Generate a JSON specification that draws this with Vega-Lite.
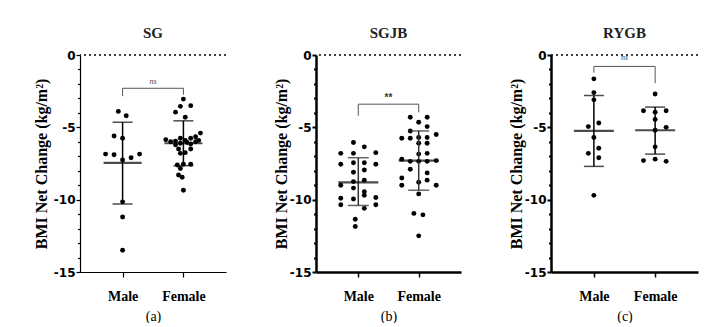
{
  "$schema": "https://vega.github.io/schema/vega-lite/v6.json",
  "background": "white",
  "padding": {"left": 33, "top": 26, "right": 0, "bottom": 0},
  "spacing": 46,
  "config": {
    "view": {"stroke": null},
    "axis": {"grid": false, "domainColor": "black", "tickColor": "black", "labelColor": "black", "titleColor": "black"},
    "title": {"font": "Liberation Serif", "fontSize": 15, "fontWeight": "bold", "color": "#222", "offset": 8}
  },
  "datasets": {
    "pts": [
      {"panel": "SG", "sex": "Male", "pos": 0.93, "bmi": -3.9},
      {"panel": "SG", "sex": "Male", "pos": 1.06, "bmi": -4.2},
      {"panel": "SG", "sex": "Male", "pos": 0.86, "bmi": -5.6},
      {"panel": "SG", "sex": "Male", "pos": 1.0, "bmi": -5.75},
      {"panel": "SG", "sex": "Male", "pos": 0.72, "bmi": -6.85},
      {"panel": "SG", "sex": "Male", "pos": 0.86, "bmi": -6.9},
      {"panel": "SG", "sex": "Male", "pos": 1.0, "bmi": -7.25},
      {"panel": "SG", "sex": "Male", "pos": 1.14, "bmi": -7.1},
      {"panel": "SG", "sex": "Male", "pos": 1.28, "bmi": -6.85},
      {"panel": "SG", "sex": "Male", "pos": 1.0, "bmi": -10.15},
      {"panel": "SG", "sex": "Male", "pos": 1.0, "bmi": -11.2},
      {"panel": "SG", "sex": "Male", "pos": 1.0, "bmi": -13.5},
      {"panel": "SG", "sex": "Female", "pos": 2.0, "bmi": -3.05},
      {"panel": "SG", "sex": "Female", "pos": 1.95, "bmi": -3.55},
      {"panel": "SG", "sex": "Female", "pos": 2.12, "bmi": -3.5},
      {"panel": "SG", "sex": "Female", "pos": 1.87, "bmi": -3.95},
      {"panel": "SG", "sex": "Female", "pos": 2.03, "bmi": -4.3},
      {"panel": "SG", "sex": "Female", "pos": 1.71, "bmi": -5.85},
      {"panel": "SG", "sex": "Female", "pos": 1.79, "bmi": -6.0},
      {"panel": "SG", "sex": "Female", "pos": 1.87, "bmi": -5.95},
      {"panel": "SG", "sex": "Female", "pos": 1.95, "bmi": -5.75},
      {"panel": "SG", "sex": "Female", "pos": 2.03, "bmi": -5.9},
      {"panel": "SG", "sex": "Female", "pos": 2.12, "bmi": -5.75},
      {"panel": "SG", "sex": "Female", "pos": 2.2, "bmi": -5.65},
      {"panel": "SG", "sex": "Female", "pos": 2.28, "bmi": -5.4},
      {"panel": "SG", "sex": "Female", "pos": 2.25, "bmi": -5.9},
      {"panel": "SG", "sex": "Female", "pos": 1.87, "bmi": -6.2},
      {"panel": "SG", "sex": "Female", "pos": 1.95, "bmi": -6.1},
      {"panel": "SG", "sex": "Female", "pos": 2.12, "bmi": -6.15},
      {"panel": "SG", "sex": "Female", "pos": 1.92, "bmi": -6.5},
      {"panel": "SG", "sex": "Female", "pos": 2.12, "bmi": -6.5},
      {"panel": "SG", "sex": "Female", "pos": 1.95, "bmi": -6.8},
      {"panel": "SG", "sex": "Female", "pos": 2.03, "bmi": -6.75},
      {"panel": "SG", "sex": "Female", "pos": 1.9, "bmi": -7.6},
      {"panel": "SG", "sex": "Female", "pos": 2.0, "bmi": -7.55},
      {"panel": "SG", "sex": "Female", "pos": 2.12, "bmi": -7.55},
      {"panel": "SG", "sex": "Female", "pos": 1.95, "bmi": -7.85},
      {"panel": "SG", "sex": "Female", "pos": 1.92, "bmi": -8.3},
      {"panel": "SG", "sex": "Female", "pos": 1.98, "bmi": -8.45},
      {"panel": "SG", "sex": "Female", "pos": 2.0, "bmi": -9.35},
      {"panel": "SG", "sex": "Female", "pos": 2.2, "bmi": -6.0},
      {"panel": "SG", "sex": "Female", "pos": 2.06, "bmi": -6.05},
      {"panel": "SGJB", "sex": "Male", "pos": 0.92, "bmi": -6.05},
      {"panel": "SGJB", "sex": "Male", "pos": 1.1, "bmi": -6.35},
      {"panel": "SGJB", "sex": "Male", "pos": 0.71, "bmi": -6.8},
      {"panel": "SGJB", "sex": "Male", "pos": 0.92, "bmi": -6.8},
      {"panel": "SGJB", "sex": "Male", "pos": 1.29, "bmi": -6.75},
      {"panel": "SGJB", "sex": "Male", "pos": 0.71, "bmi": -7.55},
      {"panel": "SGJB", "sex": "Male", "pos": 0.92, "bmi": -7.45},
      {"panel": "SGJB", "sex": "Male", "pos": 1.1, "bmi": -7.45},
      {"panel": "SGJB", "sex": "Male", "pos": 1.29, "bmi": -7.55},
      {"panel": "SGJB", "sex": "Male", "pos": 1.1, "bmi": -7.95},
      {"panel": "SGJB", "sex": "Male", "pos": 0.92, "bmi": -8.1},
      {"panel": "SGJB", "sex": "Male", "pos": 0.92, "bmi": -8.75},
      {"panel": "SGJB", "sex": "Male", "pos": 1.1, "bmi": -8.65},
      {"panel": "SGJB", "sex": "Male", "pos": 0.71, "bmi": -9.0},
      {"panel": "SGJB", "sex": "Male", "pos": 0.92, "bmi": -9.2},
      {"panel": "SGJB", "sex": "Male", "pos": 1.1, "bmi": -9.45},
      {"panel": "SGJB", "sex": "Male", "pos": 1.1, "bmi": -9.7},
      {"panel": "SGJB", "sex": "Male", "pos": 0.71, "bmi": -9.9},
      {"panel": "SGJB", "sex": "Male", "pos": 0.92, "bmi": -9.95},
      {"panel": "SGJB", "sex": "Male", "pos": 1.29, "bmi": -9.85},
      {"panel": "SGJB", "sex": "Male", "pos": 0.71, "bmi": -10.35},
      {"panel": "SGJB", "sex": "Male", "pos": 1.29, "bmi": -10.35},
      {"panel": "SGJB", "sex": "Male", "pos": 1.1, "bmi": -10.6},
      {"panel": "SGJB", "sex": "Male", "pos": 0.95, "bmi": -11.35},
      {"panel": "SGJB", "sex": "Male", "pos": 0.95, "bmi": -11.85},
      {"panel": "SGJB", "sex": "Female", "pos": 1.86, "bmi": -4.3},
      {"panel": "SGJB", "sex": "Female", "pos": 2.0, "bmi": -4.65},
      {"panel": "SGJB", "sex": "Female", "pos": 2.14, "bmi": -4.3},
      {"panel": "SGJB", "sex": "Female", "pos": 1.86, "bmi": -5.25},
      {"panel": "SGJB", "sex": "Female", "pos": 2.14, "bmi": -4.95},
      {"panel": "SGJB", "sex": "Female", "pos": 1.72, "bmi": -5.75},
      {"panel": "SGJB", "sex": "Female", "pos": 1.86, "bmi": -5.75},
      {"panel": "SGJB", "sex": "Female", "pos": 2.0, "bmi": -5.7},
      {"panel": "SGJB", "sex": "Female", "pos": 2.14, "bmi": -5.7},
      {"panel": "SGJB", "sex": "Female", "pos": 2.29, "bmi": -5.5},
      {"panel": "SGJB", "sex": "Female", "pos": 2.0, "bmi": -6.1},
      {"panel": "SGJB", "sex": "Female", "pos": 2.14, "bmi": -6.1},
      {"panel": "SGJB", "sex": "Female", "pos": 2.0, "bmi": -6.85},
      {"panel": "SGJB", "sex": "Female", "pos": 2.14, "bmi": -6.8},
      {"panel": "SGJB", "sex": "Female", "pos": 1.72, "bmi": -7.2},
      {"panel": "SGJB", "sex": "Female", "pos": 1.86, "bmi": -7.35},
      {"panel": "SGJB", "sex": "Female", "pos": 2.0, "bmi": -7.35},
      {"panel": "SGJB", "sex": "Female", "pos": 2.14, "bmi": -7.35},
      {"panel": "SGJB", "sex": "Female", "pos": 2.29, "bmi": -7.3},
      {"panel": "SGJB", "sex": "Female", "pos": 1.86, "bmi": -7.9},
      {"panel": "SGJB", "sex": "Female", "pos": 2.14, "bmi": -8.15},
      {"panel": "SGJB", "sex": "Female", "pos": 1.72, "bmi": -8.5},
      {"panel": "SGJB", "sex": "Female", "pos": 2.14, "bmi": -8.65},
      {"panel": "SGJB", "sex": "Female", "pos": 1.72, "bmi": -9.0},
      {"panel": "SGJB", "sex": "Female", "pos": 2.0, "bmi": -8.8},
      {"panel": "SGJB", "sex": "Female", "pos": 2.29, "bmi": -9.0},
      {"panel": "SGJB", "sex": "Female", "pos": 2.0, "bmi": -9.6},
      {"panel": "SGJB", "sex": "Female", "pos": 1.92, "bmi": -10.95},
      {"panel": "SGJB", "sex": "Female", "pos": 2.07, "bmi": -11.05},
      {"panel": "SGJB", "sex": "Female", "pos": 2.0, "bmi": -12.5},
      {"panel": "RYGB", "sex": "Male", "pos": 1.0, "bmi": -1.65},
      {"panel": "RYGB", "sex": "Male", "pos": 1.0, "bmi": -2.6},
      {"panel": "RYGB", "sex": "Male", "pos": 1.0, "bmi": -3.1},
      {"panel": "RYGB", "sex": "Male", "pos": 1.08, "bmi": -4.7},
      {"panel": "RYGB", "sex": "Male", "pos": 0.91, "bmi": -4.95},
      {"panel": "RYGB", "sex": "Male", "pos": 1.0, "bmi": -5.7},
      {"panel": "RYGB", "sex": "Male", "pos": 1.08, "bmi": -6.45},
      {"panel": "RYGB", "sex": "Male", "pos": 0.91, "bmi": -6.8},
      {"panel": "RYGB", "sex": "Male", "pos": 1.08, "bmi": -7.1},
      {"panel": "RYGB", "sex": "Male", "pos": 1.0, "bmi": -9.7},
      {"panel": "RYGB", "sex": "Female", "pos": 2.0, "bmi": -2.7},
      {"panel": "RYGB", "sex": "Female", "pos": 1.81, "bmi": -3.85},
      {"panel": "RYGB", "sex": "Female", "pos": 2.0, "bmi": -3.95},
      {"panel": "RYGB", "sex": "Female", "pos": 2.18, "bmi": -3.85},
      {"panel": "RYGB", "sex": "Female", "pos": 2.0, "bmi": -4.45},
      {"panel": "RYGB", "sex": "Female", "pos": 2.18, "bmi": -5.0},
      {"panel": "RYGB", "sex": "Female", "pos": 2.0, "bmi": -5.2},
      {"panel": "RYGB", "sex": "Female", "pos": 2.0, "bmi": -6.35},
      {"panel": "RYGB", "sex": "Female", "pos": 1.81, "bmi": -7.3},
      {"panel": "RYGB", "sex": "Female", "pos": 2.0, "bmi": -7.2},
      {"panel": "RYGB", "sex": "Female", "pos": 2.18, "bmi": -7.35}
    ],
    "summary": [
      {"panel": "SG", "sex": "Male", "pos": 1, "mean": -7.45, "lo": -10.3, "hi": -4.65},
      {"panel": "SG", "sex": "Female", "pos": 2, "mean": -6.1, "lo": -7.65, "hi": -4.55},
      {"panel": "SGJB", "sex": "Male", "pos": 1, "mean": -8.8, "lo": -10.4, "hi": -7.1},
      {"panel": "SGJB", "sex": "Female", "pos": 2, "mean": -7.3, "lo": -9.35, "hi": -5.25},
      {"panel": "RYGB", "sex": "Male", "pos": 1, "mean": -5.25, "lo": -7.7, "hi": -2.8},
      {"panel": "RYGB", "sex": "Female", "pos": 2, "mean": -5.2, "lo": -6.85, "hi": -3.6}
    ],
    "brackets": [
      {"panel": "SG", "from": 1, "to": 2, "mid": 1.5, "top": -2.3, "fromEnd": -2.85, "toEnd": -2.75, "label": "ns", "labelY": -1.85},
      {"panel": "SGJB", "from": 1, "to": 2, "mid": 1.5, "top": -3.4, "fromEnd": -4.2, "toEnd": -3.97, "label": "**", "labelY": -2.95},
      {"panel": "RYGB", "from": 1, "to": 2, "mid": 1.5, "top": -0.79, "fromEnd": -1.22, "toEnd": -1.95, "label": "ns", "labelY": -0.2}
    ],
    "zero": [{"level": 0}]
  },
  "hconcat": [
    {
      "width": 146, "height": 217,
      "title": "SG",
      "layer": [
        {"data": {"name": "zero"}, "mark": {"type": "rule", "strokeDash": [2, 3], "strokeWidth": 1.5, "color": "black"},
         "encoding": {"y": {"field": "level", "type": "quantitative", "scale": {"domain": [-15, 0], "nice": false},
           "axis": {"title": "BMI Net Change (kg/m²)", "values": [0,-1,-2,-3,-4,-5,-6,-7,-8,-9,-10,-11,-12,-13,-14,-15], "tickCount": 20, "labelExpr": "datum.value % 5 == 0 ? '' + datum.value : ''", "labelOverlap": false, "labelFont": "DejaVu Sans", "labelFontWeight": "bold", "labelFontSize": 12, "tickSize": {"condition": {"test": "datum.value % 5 == 0", "value": 4}, "value": 2.5}, "labelPadding": 1, "titleFont": "Liberation Serif", "titleFontSize": 16, "titleFontWeight": "bold", "titlePadding": 4, "domainWidth": 1.2, "tickWidth": 1.2}}}},
        {"data": {"name": "pts"}, "transform": [{"filter": "datum.panel == 'SG'"}],
         "mark": {"type": "point", "filled": true, "color": "black", "size": 24, "opacity": 1},
         "encoding": {
           "x": {"field": "pos", "type": "quantitative", "scale": {"domain": [0.3, 2.7], "nice": false},
             "axis": {"title": "(a)", "values": [1, 2], "labelExpr": "datum.value == 1 ? 'Male' : 'Female'", "labelFont": "Liberation Serif", "labelFontWeight": "bold", "labelFontSize": 14, "labelPadding": 12, "tickSize": 5, "domainWidth": 1.2, "tickWidth": 1.2, "titleFont": "Liberation Serif", "titleFontWeight": "normal", "titleFontSize": 14, "titlePadding": 6}},
           "y": {"field": "bmi", "type": "quantitative"}}},
        {"data": {"name": "summary"}, "transform": [{"filter": "datum.panel == 'SG'"}],
         "mark": {"type": "rule", "color": "black", "strokeWidth": 1.5},
         "encoding": {"x": {"field": "pos", "type": "quantitative"}, "y": {"field": "lo", "type": "quantitative"}, "y2": {"field": "hi"}}},
        {"data": {"name": "summary"}, "transform": [{"filter": "datum.panel == 'SG'"}],
         "mark": {"type": "tick", "orient": "horizontal", "color": "black", "size": 20, "thickness": 1.5},
         "encoding": {"x": {"field": "pos", "type": "quantitative"}, "y": {"field": "lo", "type": "quantitative"}}},
        {"data": {"name": "summary"}, "transform": [{"filter": "datum.panel == 'SG'"}],
         "mark": {"type": "tick", "orient": "horizontal", "color": "black", "size": 20, "thickness": 1.5},
         "encoding": {"x": {"field": "pos", "type": "quantitative"}, "y": {"field": "hi", "type": "quantitative"}}},
        {"data": {"name": "summary"}, "transform": [{"filter": "datum.panel == 'SG'"}],
         "mark": {"type": "tick", "orient": "horizontal", "color": "black", "size": 38, "thickness": 2.2},
         "encoding": {"x": {"field": "pos", "type": "quantitative"}, "y": {"field": "mean", "type": "quantitative"}}},
        {"data": {"name": "brackets"}, "transform": [{"filter": "datum.panel == 'SG'"}],
         "mark": {"type": "rule", "color": "#555", "strokeWidth": 1},
         "encoding": {"x": {"field": "from", "type": "quantitative"}, "x2": {"field": "to"}, "y": {"field": "top", "type": "quantitative"}}},
        {"data": {"name": "brackets"}, "transform": [{"filter": "datum.panel == 'SG'"}],
         "mark": {"type": "rule", "color": "#555", "strokeWidth": 1},
         "encoding": {"x": {"field": "from", "type": "quantitative"}, "y": {"field": "top", "type": "quantitative"}, "y2": {"field": "fromEnd"}}},
        {"data": {"name": "brackets"}, "transform": [{"filter": "datum.panel == 'SG'"}],
         "mark": {"type": "rule", "color": "#555", "strokeWidth": 1},
         "encoding": {"x": {"field": "to", "type": "quantitative"}, "y": {"field": "top", "type": "quantitative"}, "y2": {"field": "toEnd"}}},
        {"data": {"name": "brackets"}, "transform": [{"filter": "datum.panel == 'SG'"}],
         "mark": {"type": "text", "color": "#444", "font": "Liberation Serif", "fontStyle": "italic", "fontSize": 8},
         "encoding": {"x": {"field": "mid", "type": "quantitative"}, "y": {"field": "labelY", "type": "quantitative"}, "text": {"field": "label"}}}
      ]
    },
    {
      "width": 145, "height": 217,
      "title": "SGJB",
      "layer": [
        {"data": {"name": "zero"}, "mark": {"type": "rule", "strokeDash": [2, 3], "strokeWidth": 1.5, "color": "black"},
         "encoding": {"y": {"field": "level", "type": "quantitative", "scale": {"domain": [-15, 0], "nice": false},
           "axis": {"title": "BMI Net Change (kg/m²)", "values": [0,-1,-2,-3,-4,-5,-6,-7,-8,-9,-10,-11,-12,-13,-14,-15], "tickCount": 20, "labelExpr": "datum.value % 5 == 0 ? '' + datum.value : ''", "labelOverlap": false, "labelFont": "DejaVu Sans", "labelFontWeight": "bold", "labelFontSize": 12, "tickSize": {"condition": {"test": "datum.value % 5 == 0", "value": 4}, "value": 2.5}, "labelPadding": 1, "titleFont": "Liberation Serif", "titleFontSize": 16, "titleFontWeight": "bold", "titlePadding": 0, "domainWidth": 2.5, "tickWidth": 2}}}},
        {"data": {"name": "pts"}, "transform": [{"filter": "datum.panel == 'SGJB'"}],
         "mark": {"type": "point", "filled": true, "color": "black", "size": 24, "opacity": 1},
         "encoding": {
           "x": {"field": "pos", "type": "quantitative", "scale": {"domain": [0.3, 2.7], "nice": false},
             "axis": {"title": "(b)", "values": [1, 2], "labelExpr": "datum.value == 1 ? 'Male' : 'Female'", "labelFont": "Liberation Serif", "labelFontWeight": "bold", "labelFontSize": 14, "labelPadding": 12, "tickSize": 5, "domainWidth": 2.5, "tickWidth": 1.5, "titleFont": "Liberation Serif", "titleFontWeight": "normal", "titleFontSize": 14, "titlePadding": 6}},
           "y": {"field": "bmi", "type": "quantitative"}}},
        {"data": {"name": "summary"}, "transform": [{"filter": "datum.panel == 'SGJB'"}],
         "mark": {"type": "rule", "color": "#333", "strokeWidth": 1.5},
         "encoding": {"x": {"field": "pos", "type": "quantitative"}, "y": {"field": "lo", "type": "quantitative"}, "y2": {"field": "hi"}}},
        {"data": {"name": "summary"}, "transform": [{"filter": "datum.panel == 'SGJB'"}],
         "mark": {"type": "tick", "orient": "horizontal", "color": "#222", "size": 21, "thickness": 1.5},
         "encoding": {"x": {"field": "pos", "type": "quantitative"}, "y": {"field": "lo", "type": "quantitative"}}},
        {"data": {"name": "summary"}, "transform": [{"filter": "datum.panel == 'SGJB'"}],
         "mark": {"type": "tick", "orient": "horizontal", "color": "#222", "size": 21, "thickness": 1.5},
         "encoding": {"x": {"field": "pos", "type": "quantitative"}, "y": {"field": "hi", "type": "quantitative"}}},
        {"data": {"name": "summary"}, "transform": [{"filter": "datum.panel == 'SGJB'"}],
         "mark": {"type": "tick", "orient": "horizontal", "color": "black", "size": 40, "thickness": 2.2},
         "encoding": {"x": {"field": "pos", "type": "quantitative"}, "y": {"field": "mean", "type": "quantitative"}}},
        {"data": {"name": "brackets"}, "transform": [{"filter": "datum.panel == 'SGJB'"}],
         "mark": {"type": "rule", "color": "#555", "strokeWidth": 1},
         "encoding": {"x": {"field": "from", "type": "quantitative"}, "x2": {"field": "to"}, "y": {"field": "top", "type": "quantitative"}}},
        {"data": {"name": "brackets"}, "transform": [{"filter": "datum.panel == 'SGJB'"}],
         "mark": {"type": "rule", "color": "#555", "strokeWidth": 1},
         "encoding": {"x": {"field": "from", "type": "quantitative"}, "y": {"field": "top", "type": "quantitative"}, "y2": {"field": "fromEnd"}}},
        {"data": {"name": "brackets"}, "transform": [{"filter": "datum.panel == 'SGJB'"}],
         "mark": {"type": "rule", "color": "#555", "strokeWidth": 1},
         "encoding": {"x": {"field": "to", "type": "quantitative"}, "y": {"field": "top", "type": "quantitative"}, "y2": {"field": "toEnd"}}},
        {"data": {"name": "brackets"}, "transform": [{"filter": "datum.panel == 'SGJB'"}],
         "mark": {"type": "text", "color": "#333", "font": "Liberation Sans", "fontWeight": "bold", "fontSize": 10, "baseline": "middle"},
         "encoding": {"x": {"field": "mid", "type": "quantitative"}, "y": {"field": "labelY", "type": "quantitative"}, "text": {"field": "label"}}}
      ]
    },
    {
      "width": 147, "height": 217,
      "title": "RYGB",
      "layer": [
        {"data": {"name": "zero"}, "mark": {"type": "rule", "strokeDash": [2, 3], "strokeWidth": 1.5, "color": "black"},
         "encoding": {"y": {"field": "level", "type": "quantitative", "scale": {"domain": [-15, 0], "nice": false},
           "axis": {"title": "BMI Net Change (kg/m²)", "values": [0,-1,-2,-3,-4,-5,-6,-7,-8,-9,-10,-11,-12,-13,-14,-15], "tickCount": 20, "labelExpr": "datum.value % 5 == 0 ? '' + datum.value : ''", "labelOverlap": false, "labelFont": "DejaVu Sans", "labelFontWeight": "bold", "labelFontSize": 12, "tickSize": {"condition": {"test": "datum.value % 5 == 0", "value": 4}, "value": 2.5}, "labelPadding": 1, "titleFont": "Liberation Serif", "titleFontSize": 16, "titleFontWeight": "bold", "titlePadding": 0, "domainWidth": 2.5, "tickWidth": 2}}}},
        {"data": {"name": "pts"}, "transform": [{"filter": "datum.panel == 'RYGB'"}],
         "mark": {"type": "point", "filled": true, "color": "black", "size": 24, "opacity": 1},
         "encoding": {
           "x": {"field": "pos", "type": "quantitative", "scale": {"domain": [0.3, 2.7], "nice": false},
             "axis": {"title": "(c)", "values": [1, 2], "labelExpr": "datum.value == 1 ? 'Male' : 'Female'", "labelFont": "Liberation Serif", "labelFontWeight": "bold", "labelFontSize": 14, "labelPadding": 12, "tickSize": 5, "domainWidth": 2.5, "tickWidth": 1.5, "titleFont": "Liberation Serif", "titleFontWeight": "normal", "titleFontSize": 14, "titlePadding": 6}},
           "y": {"field": "bmi", "type": "quantitative"}}},
        {"data": {"name": "summary"}, "transform": [{"filter": "datum.panel == 'RYGB'"}],
         "mark": {"type": "rule", "color": "black", "strokeWidth": 1.5},
         "encoding": {"x": {"field": "pos", "type": "quantitative"}, "y": {"field": "lo", "type": "quantitative"}, "y2": {"field": "hi"}}},
        {"data": {"name": "summary"}, "transform": [{"filter": "datum.panel == 'RYGB'"}],
         "mark": {"type": "tick", "orient": "horizontal", "color": "black", "size": 20, "thickness": 1.5},
         "encoding": {"x": {"field": "pos", "type": "quantitative"}, "y": {"field": "lo", "type": "quantitative"}}},
        {"data": {"name": "summary"}, "transform": [{"filter": "datum.panel == 'RYGB'"}],
         "mark": {"type": "tick", "orient": "horizontal", "color": "black", "size": 20, "thickness": 1.5},
         "encoding": {"x": {"field": "pos", "type": "quantitative"}, "y": {"field": "hi", "type": "quantitative"}}},
        {"data": {"name": "summary"}, "transform": [{"filter": "datum.panel == 'RYGB'"}],
         "mark": {"type": "tick", "orient": "horizontal", "color": "black", "size": 40, "thickness": 2.2},
         "encoding": {"x": {"field": "pos", "type": "quantitative"}, "y": {"field": "mean", "type": "quantitative"}}},
        {"data": {"name": "brackets"}, "transform": [{"filter": "datum.panel == 'RYGB'"}],
         "mark": {"type": "rule", "color": "#555", "strokeWidth": 1},
         "encoding": {"x": {"field": "from", "type": "quantitative"}, "x2": {"field": "to"}, "y": {"field": "top", "type": "quantitative"}}},
        {"data": {"name": "brackets"}, "transform": [{"filter": "datum.panel == 'RYGB'"}],
         "mark": {"type": "rule", "color": "#555", "strokeWidth": 1},
         "encoding": {"x": {"field": "from", "type": "quantitative"}, "y": {"field": "top", "type": "quantitative"}, "y2": {"field": "fromEnd"}}},
        {"data": {"name": "brackets"}, "transform": [{"filter": "datum.panel == 'RYGB'"}],
         "mark": {"type": "rule", "color": "#555", "strokeWidth": 1},
         "encoding": {"x": {"field": "to", "type": "quantitative"}, "y": {"field": "top", "type": "quantitative"}, "y2": {"field": "toEnd"}}},
        {"data": {"name": "brackets"}, "transform": [{"filter": "datum.panel == 'RYGB'"}],
         "mark": {"type": "text", "color": "#444", "font": "Liberation Serif", "fontStyle": "italic", "fontSize": 8},
         "encoding": {"x": {"field": "mid", "type": "quantitative"}, "y": {"field": "labelY", "type": "quantitative"}, "text": {"field": "label"}}}
      ]
    }
  ]
}
